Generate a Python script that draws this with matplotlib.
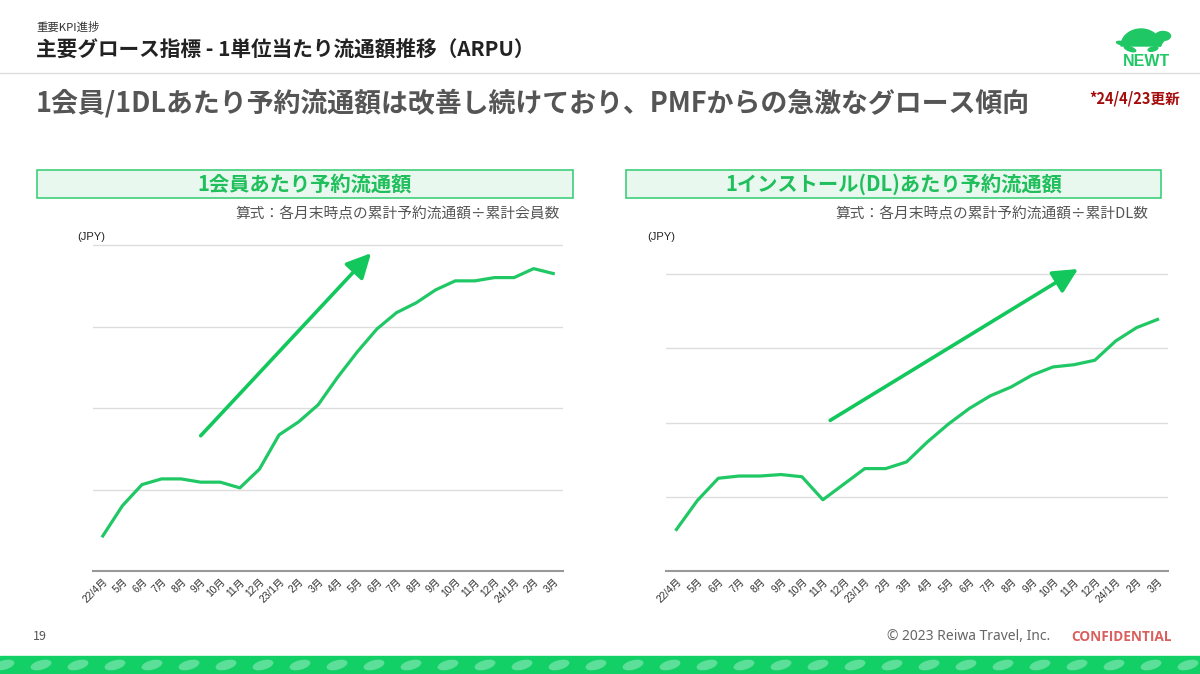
import matplotlib
matplotlib.use('Agg')
import matplotlib.pyplot as plt
import numpy as np
from matplotlib import patches

plt.rcParams['font.family'] = ['Noto Sans CJK JP', 'DejaVu Sans']

# data (values read relative to the gridlines, no y labels in the source)
months = ['22/4月', '5月', '6月', '7月', '8月', '9月', '10月', '11月', '12月',
          '23/1月', '2月', '3月', '4月', '5月', '6月', '7月', '8月', '9月',
          '10月', '11月', '12月', '24/1月', '2月', '3月']
member_arpu = [0.43, 0.80, 1.06, 1.13, 1.13, 1.09, 1.09, 1.02, 1.25, 1.67,
               1.83, 2.04, 2.38, 2.69, 2.97, 3.17, 3.29, 3.45, 3.56, 3.56,
               3.60, 3.60, 3.71, 3.65]
dl_arpu = [0.56, 0.95, 1.25, 1.28, 1.28, 1.30, 1.27, 0.96, 1.17, 1.38,
           1.38, 1.47, 1.74, 1.98, 2.19, 2.36, 2.48, 2.64, 2.75, 2.78,
           2.84, 3.10, 3.28, 3.39]
member_trend = [(5.0, 1.66), (13.7, 3.90)]
dl_trend = [(7.35, 2.03), (19.2, 4.07)]

GREEN = '#20c865'
W, H = 1200, 674

fig = plt.figure(figsize=(12, 6.74), dpi=100)
bg = fig.add_axes([0, 0, 1, 1])
bg.set_xlim(0, W)
bg.set_ylim(H, 0)
bg.axis('off')

# header
bg.text(36, 27, '重要KPI進捗', fontsize=8.2, color='#333333', va='center')
bg.text(36, 50, '主要グロース指標 - 1単位当たり流通額推移（ARPU）', fontsize=14.9,
        fontweight='bold', color='#222222', va='center')
bg.plot([0, W], [73, 73], color='#dddddd', lw=1)
bg.text(36, 103, '1会員/1DLあたり予約流通額は改善し続けており、PMFからの急激なグロース傾向',
        fontsize=19.4, fontweight='bold', color='#555555', va='center')
bg.text(1180, 98, '*24/4/23更新', fontsize=10.5, fontweight='bold', color='#a50d0d',
        va='center', ha='right')

# logo (turtle)
t = np.linspace(np.pi, 2 * np.pi, 40)
shell = np.column_stack([1141 + 20 * np.cos(t), 46 + 17 * np.sin(t)])
bg.add_patch(patches.Polygon(shell, closed=True, color=GREEN))
bg.add_patch(patches.Ellipse((1163, 36), 15, 9, color=GREEN))
bg.add_patch(patches.Polygon([(1155, 45), (1158, 34), (1165, 39), (1160, 46)], color=GREEN))
bg.add_patch(patches.Ellipse((1130, 49), 12, 4, angle=20, color=GREEN))
bg.add_patch(patches.Ellipse((1153, 49), 10, 4, angle=-15, color=GREEN))
bg.add_patch(patches.Ellipse((1121, 43), 9, 3, angle=10, color=GREEN))
bg.text(1146, 62, 'NEWT', fontsize=11.5, fontweight='bold', color=GREEN,
        ha='center', va='center', family=['Liberation Sans', 'DejaVu Sans'])

# footer
bg.text(33, 637, '19', fontsize=9, color='#555555', va='center')
bg.text(1050, 637, '© 2023 Reiwa Travel, Inc.', fontsize=10, color='#666666',
        va='center', ha='right', family=['Noto Sans', 'DejaVu Sans'])
bg.text(1172, 637, 'CONFIDENTIAL', fontsize=9.8, fontweight='bold', color='#d9605e',
        va='center', ha='right', family=['Open Sans', 'DejaVu Sans'])
bg.add_patch(patches.Rectangle((0, 656), W, 18, color='#12cf66'))
x = 4
while x < W:
    bg.add_patch(patches.Ellipse((x, 665), 20, 8, angle=-15, color='#5cdf98'))
    x += 37

panels = [
    (37, 573, '1会員あたり予約流通額', '算式：各月末時点の累計予約流通額÷累計会員数', 560, 77),
    (626, 1161, '1インストール(DL)あたり予約流通額', '算式：各月末時点の累計予約流通額÷累計DL数', 1148, 647),
]
for x0, x1, title, formula, fx, jx in panels:
    bg.add_patch(patches.Rectangle((x0, 170), x1 - x0, 28, facecolor='#e8f8ee',
                                   edgecolor='#3fcf7a', lw=1.2))
    bg.text((x0 + x1) / 2, 184, title, fontsize=14.6, fontweight='bold', color='#1fbf5c',
            ha='center', va='center')
    bg.text(fx, 215, formula, fontsize=10.6, color='#555555', ha='right', va='center')
    bg.text(jx, 237, '(JPY)', fontsize=8, color='#222222', va='center',
            family=['Liberation Sans', 'DejaVu Sans'])


def draw(rect, values, trend, ytop):
    ax = fig.add_axes(rect)
    ax.patch.set_alpha(0)
    ax.plot(range(len(values)), values, color=GREEN, lw=2.3, solid_joinstyle='round')
    ax.annotate('', xy=trend[1], xytext=trend[0],
                arrowprops=dict(arrowstyle='-|>,head_length=1.0,head_width=0.5',
                                mutation_scale=15, lw=2.6, color='#12c85c',
                                shrinkA=0, shrinkB=0))
    ax.set_xlim(-0.5, len(values) - 0.5)
    ax.set_ylim(0, ytop)
    ax.set_yticks([1, 2, 3, 4])
    ax.yaxis.grid(True, color='#dddddd', lw=1)
    ax.tick_params(axis='y', length=0, labelleft=False)
    ax.set_xticks(range(len(months)))
    ax.set_xticklabels(months, rotation=45, ha='right', rotation_mode='anchor',
                       fontsize=7.4, color='#333333',
                       family=['Liberation Sans', 'Noto Sans CJK JP'])
    ax.tick_params(axis='x', length=0, pad=4)
    for s in ['top', 'right', 'left']:
        ax.spines[s].set_visible(False)
    ax.spines['bottom'].set_color('#999999')
    ax.spines['bottom'].set_linewidth(1.5)
    ax.set_axisbelow(True)
    return ax


# left: gridline spacing 81.5 px, right: 74.2 px, baseline at y=571
draw([93 / W, 1 - 571 / H, 470 / W, 4.1 * 81.5 / H], member_arpu, member_trend, 4.1)
draw([666 / W, 1 - 571 / H, 502 / W, 4.5 * 74.2 / H], dl_arpu, dl_trend, 4.5)

fig.savefig('out.png', dpi=100)
